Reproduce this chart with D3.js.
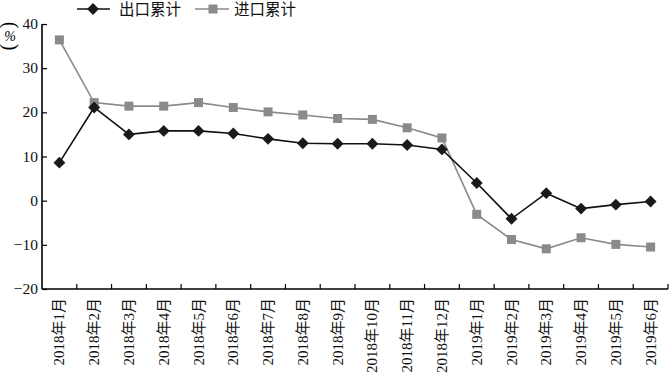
<!DOCTYPE html>
<html>
<head>
<meta charset="utf-8">
<script src="https://cdn.jsdelivr.net/npm/d3@7"></script>
<style>
  body { margin: 0; background: #fff; }
  svg text { font-family: "Liberation Serif", "Noto Sans CJK SC", serif; }
</style>
</head>
<body>
<div id="chart"></div>
<script>
var months = ["2018年1月", "2018年2月", "2018年3月", "2018年4月", "2018年5月", "2018年6月",
    "2018年7月", "2018年8月", "2018年9月", "2018年10月", "2018年11月", "2018年12月",
    "2019年1月", "2019年2月", "2019年3月", "2019年4月", "2019年5月", "2019年6月"];
var exportCum = [8.6, 21.1, 15.0, 15.8, 15.8, 15.2, 14.0, 13.0, 12.9, 12.9, 12.6, 11.6,
    4.0, -4.1, 1.7, -1.8, -0.9, -0.2];
var importCum = [36.4, 22.2, 21.4, 21.4, 22.2, 21.1, 20.1, 19.4, 18.6, 18.4, 16.5, 14.2,
    -3.1, -8.8, -10.9, -8.4, -9.9, -10.5];
var yTicks = [-20, -10, 0, 10, 20, 30, 40];
var seriesNames = ["出口累计", "进口累计"];

var width = 669, height = 376;
var margin = { top: 24, right: 1, bottom: 87, left: 42 };
var grey = "#8a8a8a";

var svg = d3.select("#chart").append("svg")
    .attr("width", width)
    .attr("height", height);

var x = d3.scaleBand()
    .domain(months)
    .range([margin.left, width - margin.right]);

var y = d3.scaleLinear()
    .domain([-20, 40])
    .range([height - margin.bottom, margin.top]);

function cx(d, i) { return x(months[i]) + x.bandwidth() / 2; }

// x axis: ticks at band edges, pointing up
var xAxis = svg.append("g")
    .attr("transform", "translate(0," + y(-20) + ")");
xAxis.append("line")
    .attr("x1", margin.left).attr("x2", width - margin.right)
    .attr("stroke", "#000").attr("stroke-width", 1.6);
xAxis.selectAll(".tick")
    .data(months.slice(1).concat(["end"]))
    .enter().append("line")
    .attr("x1", function(d, i) { return margin.left + x.step() * (i + 1); })
    .attr("x2", function(d, i) { return margin.left + x.step() * (i + 1); })
    .attr("y1", 0).attr("y2", -5)
    .attr("stroke", "#000").attr("stroke-width", 1.2);
xAxis.selectAll(".lbl")
    .data(months)
    .enter().append("text")
    .attr("transform", function(d) {
        return "translate(" + (x(d) + x.bandwidth() / 2 + 5) + ",9) rotate(-90)";
    })
    .attr("text-anchor", "end")
    .attr("font-size", 15)
    .attr("fill", "#111")
    .text(function(d) { return d; });

// y axis: ticks pointing right
var yAxis = svg.append("g")
    .attr("transform", "translate(" + margin.left + ",0)")
    .call(d3.axisRight(y).tickValues(yTicks).tickSize(5).tickFormat(""));
yAxis.select(".domain").attr("stroke-width", 1.6).attr("d", "M0," + y(40) + "V" + y(-20));
yAxis.selectAll(".tick line").attr("stroke-width", 1.2);
svg.selectAll(".ylbl")
    .data(yTicks)
    .enter().append("text")
    .attr("x", margin.left - 4)
    .attr("y", function(d) { return y(d) + 5; })
    .attr("text-anchor", "end")
    .attr("font-size", 15.5)
    .attr("fill", "#111")
    .text(function(d) { return d < 0 ? "\u2212" + Math.abs(d) : d; });

// unit label (%)
var unit = svg.append("g").attr("transform", "translate(10,36)");
unit.append("text").attr("transform", "translate(0,-11) rotate(90)")
    .attr("text-anchor", "middle").attr("dy", "0.3em").attr("font-size", 20).text("(");
unit.append("text").attr("text-anchor", "middle").attr("dy", "0.35em")
    .attr("font-size", 14).attr("font-style", "italic").text("%");
unit.append("text").attr("transform", "translate(0,11) rotate(90)")
    .attr("text-anchor", "middle").attr("dy", "0.3em").attr("font-size", 20).text(")");

var line = d3.line()
    .x(cx)
    .y(function(d) { return y(d); });

// import series (grey squares)
svg.append("path")
    .datum(importCum)
    .attr("fill", "none").attr("stroke", grey).attr("stroke-width", 1.6)
    .attr("d", line);
svg.selectAll(".sq")
    .data(importCum)
    .enter().append("rect")
    .attr("x", function(d, i) { return cx(d, i) - 4.5; })
    .attr("y", function(d) { return y(d) - 4.5; })
    .attr("width", 9).attr("height", 9)
    .attr("fill", grey);

// export series (black diamonds)
svg.append("path")
    .datum(exportCum)
    .attr("fill", "none").attr("stroke", "#111").attr("stroke-width", 1.6)
    .attr("d", line);
var diamond = d3.symbol().type(d3.symbolDiamond2).size(90);
svg.selectAll(".dm")
    .data(exportCum)
    .enter().append("path")
    .attr("transform", function(d, i) { return "translate(" + cx(d, i) + "," + y(d) + ")"; })
    .attr("d", diamond)
    .attr("fill", "#1a1a1a");

// legend
var legend = svg.append("g").attr("transform", "translate(0,9)");
legend.append("line").attr("x1", 77).attr("x2", 110)
    .attr("stroke", "#111").attr("stroke-width", 1.6);
legend.append("path").attr("transform", "translate(93,0)").attr("d", diamond).attr("fill", "#1a1a1a");
legend.append("text").attr("x", 119).attr("y", 5.5).attr("font-size", 15.5)
    .attr("font-family", "Noto Sans CJK SC").attr("fill", "#111").text(seriesNames[0]);
legend.append("line").attr("x1", 195).attr("x2", 229)
    .attr("stroke", grey).attr("stroke-width", 1.6);
legend.append("rect").attr("x", 208.5).attr("y", -4.5).attr("width", 9).attr("height", 9).attr("fill", grey);
legend.append("text").attr("x", 234).attr("y", 5.5).attr("font-size", 15.5)
    .attr("font-family", "Noto Sans CJK SC").attr("fill", "#111").text(seriesNames[1]);
</script>
</body>
</html>
